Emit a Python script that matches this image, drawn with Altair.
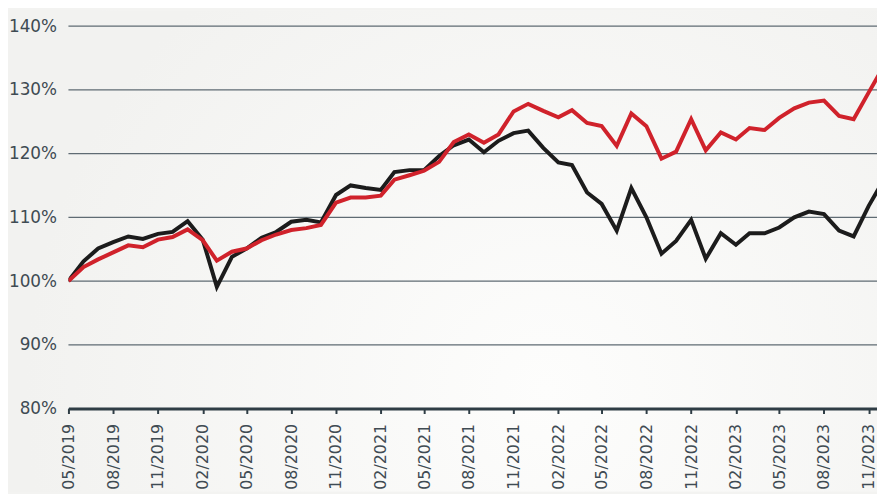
import altair as alt
import pandas as pd

months = [d.strftime("%Y-%m-01T00:00:00") for d in pd.date_range("2019-05-01", periods=56, freq="MS")]

black_series = [100, 103.1, 105.1, 106.1, 107.0, 106.6, 107.4, 107.7, 109.4, 106.5,
                99.1, 103.8, 105.1, 106.8, 107.7, 109.3, 109.6, 109.2, 113.5, 115.0,
                114.6, 114.3, 117.1, 117.4, 117.4, 119.6, 121.3, 122.2, 120.2, 122.0,
                123.2, 123.6, 120.9, 118.6, 118.2, 113.9, 112.1, 107.9, 114.6, 110.0,
                104.3, 106.3, 109.6, 103.5, 107.5, 105.7, 107.5, 107.5, 108.4, 110.0,
                110.9, 110.5, 107.9, 107.0, 111.8, 115.8]
red_series = [100, 102.2, 103.4, 104.5, 105.6, 105.3, 106.5, 106.9, 108.1, 106.4,
              103.2, 104.6, 105.1, 106.4, 107.3, 108.0, 108.3, 108.8, 112.3, 113.1,
              113.1, 113.4, 115.9, 116.6, 117.3, 118.7, 121.8, 123.0, 121.7, 123.0,
              126.6, 127.8, 126.7, 125.7, 126.8, 124.8, 124.3, 121.2, 126.3, 124.3,
              119.2, 120.3, 125.4, 120.5, 123.3, 122.2, 124.0, 123.7, 125.6, 127.1,
              128.0, 128.3, 125.9, 125.4, 129.6, 133.6]

grid_values = [80, 90, 100, 110, 120, 130, 140]
tick_months = [(2019 + (4 + k) // 12, (4 + k) % 12 + 1) for k in range(0, 55, 3)]

rows = []
for m, b, r in zip(months, black_series, red_series):
    rows.append({"date": m, "value": b, "series": "black"})
    rows.append({"date": m, "value": r, "series": "red"})
df = pd.DataFrame(rows)
grid_df = pd.DataFrame({"value": grid_values})

W, H = 816, 386
LEFT, TOP, BOTTOM = 61, 16, 84

x_scale = alt.Scale(domain=[alt.DateTime(year=2019, month=5, date=1),
                            alt.DateTime(year=2023, month=11, date=18)])
y_scale = alt.Scale(domain=[80, 140])

y_axis = alt.Axis(values=grid_values, labelExpr="datum.value + '%'",
                  labelFontSize=17, labelColor="#3f4b53", labelFont="DejaVu Sans",
                  ticks=False, tickSize=0, domain=False, grid=False, labelPadding=12,
                  zindex=1)

bg = alt.Chart(alt.Data(values=[{"a": 1}])).mark_rect(
    fill=alt.RadialGradient(
        gradient="radial", x1=0.62, y1=0.66, r1=0, x2=0.62, y2=0.66, r2=0.6,
        stops=[alt.GradientStop(offset=0, color="#fdfdfc"),
               alt.GradientStop(offset=1, color="#f2f2f0")]),
).encode(x=alt.value(-LEFT), x2=alt.value(W), y=alt.value(-TOP), y2=alt.value(H + BOTTOM))

grid = alt.Chart(grid_df).mark_rule(color="#5f6b73", strokeWidth=1.3).encode(
    y=alt.Y("value:Q", scale=y_scale, title=None, axis=y_axis)
)

lines = alt.Chart(df).mark_line(strokeWidth=4, clip=True, strokeJoin="miter").encode(
    x=alt.X("date:T", scale=x_scale, title=None,
            axis=alt.Axis(values=[alt.DateTime(year=y, month=m, date=1) for y, m in tick_months],
                          format="%m/%Y", labelAngle=-90, labelFontSize=16,
                          labelColor="#3f4b53", labelFont="DejaVu Sans",
                          labelPadding=10, tickSize=5, tickWidth=2, tickColor="#2f3d45",
                          domainColor="#2f3d45", domainWidth=3, grid=False, zindex=1,
                          labelOverlap=False, labelBound=False, labelFlush=False)),
    y=alt.Y("value:Q", scale=y_scale, title=None, axis=y_axis),
    color=alt.Color("series:N", scale=alt.Scale(domain=["black", "red"],
                                                range=["#1c1c1c", "#d0222b"]), legend=None),
    order=alt.Order("series:N", sort="ascending"),
)

chart = alt.layer(bg, grid, lines).properties(
    width=W, height=H,
    autosize=alt.AutoSizeParams(type="none"),
    padding={"left": LEFT, "top": TOP, "right": 0, "bottom": BOTTOM},
    background="#f3f3f1",
).configure_view(stroke=None)

chart.save("out.html", embed_options={"renderer": "svg", "actions": False})
